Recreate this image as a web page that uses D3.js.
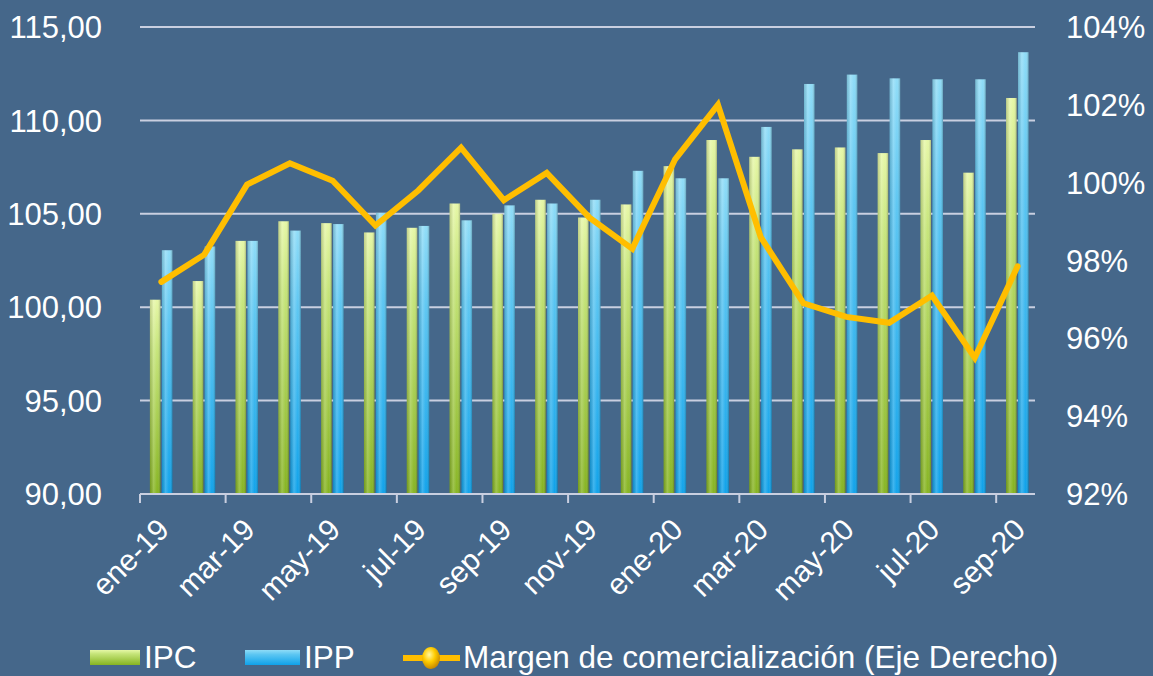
<!DOCTYPE html>
<html>
<head>
<meta charset="utf-8">
<script src="https://cdn.jsdelivr.net/npm/d3@7"></script>
<style>
  html, body { margin: 0; padding: 0; background: #45678a; }
  svg { display: block; font-family: "Liberation Sans", Arial, sans-serif; }
</style>
</head>
<body>
<svg width="1153" height="676"></svg>
<script>
// months, ene-19 .. sep-20
const months = ["ene-19","feb-19","mar-19","abr-19","may-19","jun-19","jul-19","ago-19","sep-19","oct-19","nov-19","dic-19",
  "ene-20","feb-20","mar-20","abr-20","may-20","jun-20","jul-20","ago-20","sep-20"];
const ipc = [100.4,101.4,103.55,104.6,104.5,104.0,104.25,105.55,105.0,105.75,104.8,105.5,
  107.55,108.95,108.05,108.45,108.55,108.25,108.95,107.2,111.2];
const ipp = [103.05,103.25,103.55,104.1,104.45,105.05,104.35,104.65,105.45,105.55,105.75,107.3,
  106.9,106.9,109.65,111.95,112.45,112.25,112.2,112.2,113.65];
const margen = [97.45,98.15,99.95,100.5,100.05,98.9,99.8,100.9,99.55,100.25,99.1,98.3,
  100.6,102.0,98.6,96.9,96.55,96.4,97.1,95.5,97.85];
const leftTicks = [90,95,100,105,110,115];
const rightTicks = [92,94,96,98,100,102,104];

const svg = d3.select("svg");
const plotL = 140, plotR = 1039, plotT = 27, plotB = 494;
const gridColor = "#c9cfe0";

const x = d3.scaleBand().domain(months).range([plotL, plotR]).padding(0);
const xs = d3.scaleBand().domain(["IPC","IPP"]).range([-11.5, 11]).paddingInner(0.12);
const y = d3.scaleLinear().domain([90,115]).range([plotB, plotT]);
const y2 = d3.scaleLinear().domain([92,104]).range([plotB, plotT]);

// gradients
const defs = svg.append("defs");
function vgrad(id, stops) {
  const g = defs.append("linearGradient").attr("id", id).attr("x1",0).attr("y1",0).attr("x2",0).attr("y2",1);
  stops.forEach(s => g.append("stop").attr("offset", s[0]).attr("stop-color", s[1]));
}
vgrad("gIPC", [[0,"#e6f7a6"],[0.25,"#c6e57a"],[1,"#86b421"]]);
vgrad("gIPP", [[0,"#8fdcf7"],[0.3,"#5cc6f2"],[1,"#0fa2ea"]]);
const hg = defs.append("linearGradient").attr("id","shine").attr("x1",0).attr("x2",1).attr("y1",0).attr("y2",0);
hg.append("stop").attr("offset",0).attr("stop-color","#000").attr("stop-opacity",0.15);
hg.append("stop").attr("offset",0.35).attr("stop-color","#fff").attr("stop-opacity",0.2);
hg.append("stop").attr("offset",0.7).attr("stop-color","#fff").attr("stop-opacity",0);
hg.append("stop").attr("offset",1).attr("stop-color","#000").attr("stop-opacity",0.25);
const rg = defs.append("radialGradient").attr("id","ball").attr("cx","40%").attr("cy","35%").attr("r","65%");
rg.append("stop").attr("offset",0).attr("stop-color","#fff7a0");
rg.append("stop").attr("offset",0.5).attr("stop-color","#ffcc00");
rg.append("stop").attr("offset",1).attr("stop-color","#c88a00");

// gridlines
svg.append("g").selectAll("line").data(leftTicks.slice(1)).enter().append("line")
  .attr("x1", plotL).attr("x2", plotR - 4)
  .attr("y1", d => y(d)).attr("y2", d => y(d))
  .attr("stroke", gridColor).attr("stroke-width", 2);

// left axis labels
svg.append("g").selectAll("text").data(leftTicks).enter().append("text")
  .attr("x", 102).attr("y", d => y(d)).attr("dy", "0.36em")
  .attr("text-anchor", "end").attr("fill", "#fff").attr("font-size", 31)
  .text(d => d3.format(".2f")(d).replace(".", ","));

// right axis labels
svg.append("g").selectAll("text").data(rightTicks).enter().append("text")
  .attr("x", 1066).attr("y", d => y2(d)).attr("dy", "0.36em")
  .attr("text-anchor", "start").attr("fill", "#fff").attr("font-size", 31)
  .text(d => d + "%");

// bars
const series = [["IPC", ipc, "url(#gIPC)"], ["IPP", ipp, "url(#gIPP)"]];
series.forEach(s => {
  const g = svg.append("g");
  const data = s[1].map((v, i) => ({ m: months[i], v: v }));
  g.selectAll("rect.b").data(data).enter().append("rect").attr("class","b")
    .attr("x", d => x(d.m) + x.bandwidth() / 2 + xs(s[0]))
    .attr("width", xs.bandwidth())
    .attr("y", d => y(d.v)).attr("height", d => plotB - y(d.v))
    .attr("fill", s[2]);
  g.selectAll("rect.s").data(data).enter().append("rect").attr("class","s")
    .attr("x", d => x(d.m) + x.bandwidth() / 2 + xs(s[0]))
    .attr("width", xs.bandwidth())
    .attr("y", d => y(d.v)).attr("height", d => plotB - y(d.v))
    .attr("fill", "url(#shine)");
});

// x axis
svg.append("line").attr("x1", plotL).attr("x2", plotR - 4).attr("y1", plotB).attr("y2", plotB)
  .attr("stroke", gridColor).attr("stroke-width", 2);
const tickMonths = months.filter((m, i) => i % 2 === 0);
svg.append("g").selectAll("line").data(tickMonths).enter().append("line")
  .attr("x1", d => x(d)).attr("x2", d => x(d))
  .attr("y1", plotB).attr("y2", plotB + 9)
  .attr("stroke", gridColor).attr("stroke-width", 2);
svg.append("g").selectAll("text").data(tickMonths).enter().append("text")
  .attr("transform", d => `translate(${x(d) + x.bandwidth() / 2 + 2},${plotB + 30}) rotate(-45)`)
  .attr("text-anchor", "end").attr("fill", "#fff").attr("font-size", 30)
  .attr("dy", "0.35em")
  .text(d => d);

// line
const line = d3.line().x((d, i) => x(months[i]) + x.bandwidth() / 2).y(d => y2(d));
svg.append("path").datum(margen).attr("d", line)
  .attr("fill", "none").attr("stroke", "#ffbe00").attr("stroke-width", 6)
  .attr("stroke-linejoin", "miter").attr("stroke-linecap", "round");

// legend
const lg = svg.append("g").attr("font-size", 31.5).attr("fill", "#fff");
lg.append("rect").attr("x", 90).attr("y", 650).attr("width", 50).attr("height", 15).attr("fill", "url(#gIPC)");
lg.append("text").attr("x", 144).attr("y", 668).text("IPC");
lg.append("rect").attr("x", 245).attr("y", 650).attr("width", 55).attr("height", 15).attr("fill", "url(#gIPP)");
lg.append("text").attr("x", 304).attr("y", 668).text("IPP");
lg.append("line").attr("x1", 403).attr("x2", 460).attr("y1", 658).attr("y2", 658)
  .attr("stroke", "#ffbe00").attr("stroke-width", 6);
lg.append("ellipse").attr("cx", 431).attr("cy", 658).attr("rx", 9).attr("ry", 11).attr("fill", "url(#ball)");
lg.append("text").attr("x", 463).attr("y", 668).text("Margen de comercialización (Eje Derecho)");
</script>
</body>
</html>
